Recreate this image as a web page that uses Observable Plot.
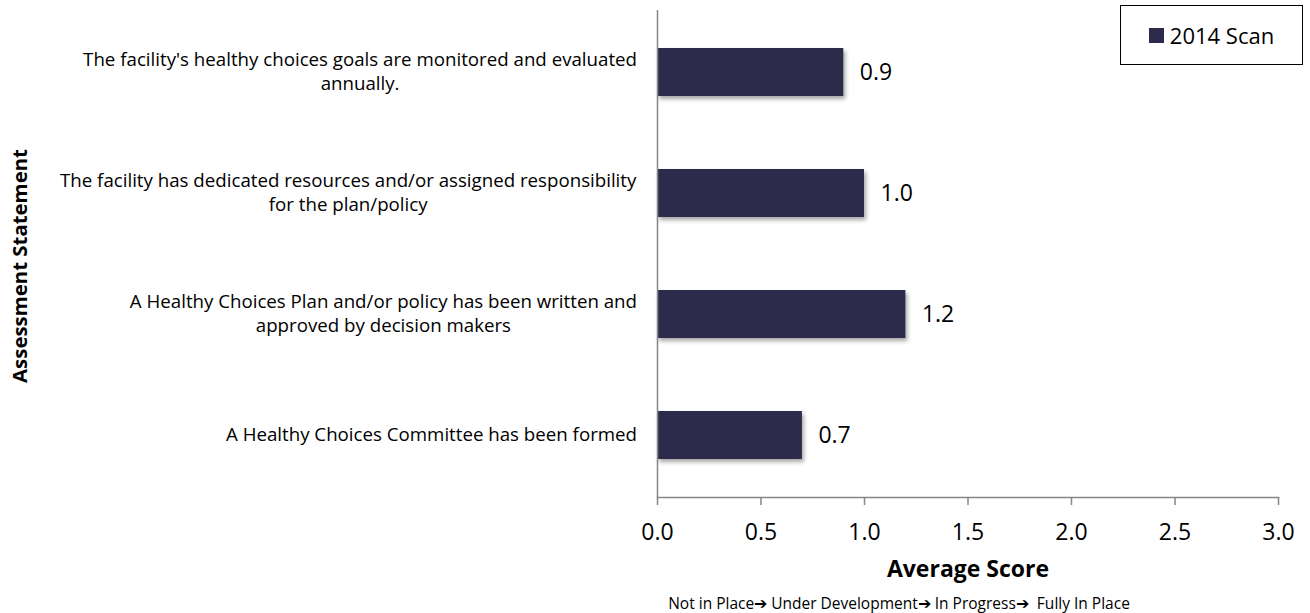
<!DOCTYPE html>
<html>
<head>
<meta charset="utf-8">
<script src="https://cdn.jsdelivr.net/npm/d3@7"></script>
<script src="https://cdn.jsdelivr.net/npm/@observablehq/plot@0.6"></script>
<style>
  html, body { margin: 0; padding: 0; background: #fff; }
  body { font-family: "Open Sans", sans-serif; }
  #wrap { position: relative; width: 1310px; height: 613px; }
  #legend { position: absolute; left: 1120px; top: 5px; width: 181px; height: 58px;
            border: 1.5px solid #000; box-sizing: content-box; background: #fff;
            display: flex; align-items: center; justify-content: center; }
  #legend .sw { width: 15px; height: 15px; background: #2d2b4b; margin-right: 6px; }
  #legend .lt { font-size: 22px; color: #000; }
  #ytitle { position: absolute; left: 19px; top: 266px; transform: translate(-50%, -50%) rotate(-90deg);
            white-space: nowrap; font-weight: bold; font-size: 20.4px; color: #000; }
  g[aria-label="bar"] { filter: drop-shadow(2px 3px 2px rgba(0,0,0,0.35)); }
</style>
</head>
<body>
<div id="wrap"></div>
<script>
const statements = [
  "The facility's healthy choices goals are monitored and evaluated\nannually.",
  "The facility has dedicated resources and/or assigned responsibility\nfor the plan/policy",
  "A Healthy Choices Plan and/or policy has been written and\napproved by decision makers",
  "A Healthy Choices Committee has been formed"
];
const scores = [0.9, 1.0, 1.2, 0.7];
const seriesName = "2014 Scan";
const xTicks = [0, 0.5, 1.0, 1.5, 2.0, 2.5, 3.0];
const xTitle = "Average Score";
const yTitle = "Assessment Statement";
const caption = "Not in Place\u2794 Under Development\u2794 In Progress\u2794  Fully In Place";

const barColor = "#2d2b4b";
const axisColor = "#868686";

const data = statements.map((s, i) => ({statement: s, score: scores[i]}));

const chart = Plot.plot({
  width: 1310,
  height: 613,
  marginLeft: 657,
  marginRight: 32,
  marginTop: 10,
  marginBottom: 116,
  style: {fontFamily: "'Open Sans', sans-serif", color: "#000", background: "#fff", overflow: "visible"},
  x: {domain: [0, 3]},
  y: {domain: statements, paddingInner: 0.6, paddingOuter: 0.3},
  marks: [
    Plot.barX(data, {x: "score", y: "statement", fill: barColor}),
    Plot.ruleX([0], {stroke: axisColor, strokeWidth: 1.5}),
    Plot.frame({anchor: "bottom", stroke: axisColor, strokeWidth: 1.5}),
    Plot.axisX({ticks: xTicks, tickFormat: d3.format(".1f"), tickSize: 8, tickPadding: 18,
                fontSize: 23, stroke: axisColor, strokeWidth: 1.5, fill: "#000", label: null}),
    Plot.axisY({tickSize: 0, tickPadding: 20, fontSize: 18.7, textAnchor: "middle", dy: -2,
                lineHeight: 1.3, fill: "#000", label: null}),
    Plot.text(data, {x: "score", y: "statement", text: d => d3.format(".1f")(d.score),
                     dx: 16, textAnchor: "start", fontSize: 23, fill: "#000"}),
    Plot.text([xTitle], {frameAnchor: "bottom", dy: 79, fontSize: 23, fontWeight: "bold", fill: "#000"}),
    Plot.text([caption], {frameAnchor: "bottom", dx: -69, dy: 111, fontSize: 15.5, fill: "#000"})
  ]
});

const wrap = document.getElementById("wrap");
wrap.appendChild(chart);

// Excel-style wrapped category labels: block right-aligned, lines centred within the block
const rightEdge = 637;
const wrapLeft = wrap.getBoundingClientRect().left;
chart.querySelectorAll('g[aria-label="y-axis tick label"] text').forEach(t => {
  const r = t.getBoundingClientRect();
  const curCenter = r.left - wrapLeft + r.width / 2;
  const target = rightEdge - r.width / 2;
  const delta = target - curCenter;
  const tr = t.getAttribute("transform") || "";
  const m = tr.match(/translate\(\s*([-\d.e]+)[ ,]+([-\d.e]+)\s*\)/);
  const x = m ? +m[1] : 0, y = m ? +m[2] : 0;
  t.setAttribute("transform", `translate(${x + delta},${y})`);
});

const legend = document.createElement("div");
legend.id = "legend";
legend.innerHTML = `<div class="sw"></div><div class="lt">${seriesName}</div>`;
wrap.appendChild(legend);

const yt = document.createElement("div");
yt.id = "ytitle";
yt.textContent = yTitle;
wrap.appendChild(yt);
</script>
</body>
</html>
